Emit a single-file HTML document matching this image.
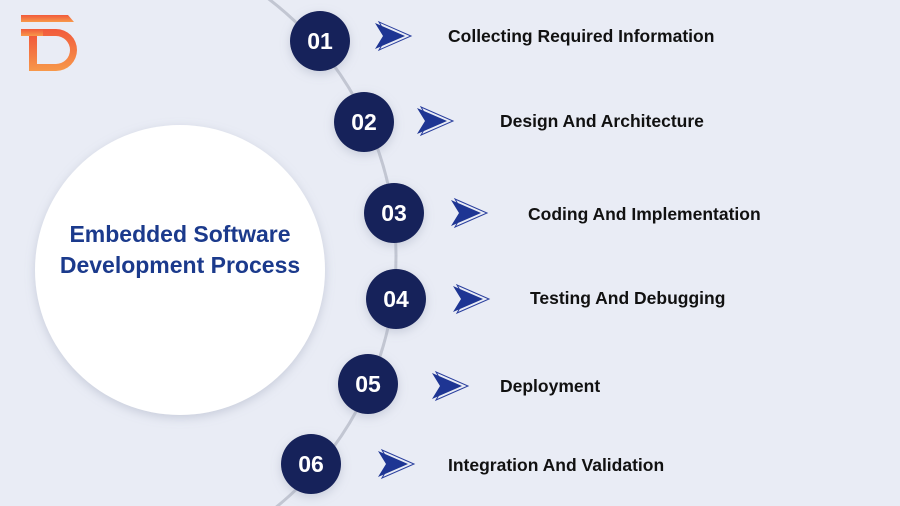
<!DOCTYPE html>
<html><head><style>
html,body{margin:0;width:900px;height:506px;overflow:hidden;background:#e9ecf5;font-family:"Liberation Sans",sans-serif;}
.t{position:absolute;font-weight:bold;font-size:17.5px;color:#111;white-space:nowrap}
</style></head><body>
<svg width="900" height="506" style="position:absolute;left:0;top:0;overflow:hidden">
<defs>
<filter id="sh" x="-30%" y="-30%" width="160%" height="160%"><feDropShadow dx="0" dy="3" stdDeviation="5" flood-color="#8890a8" flood-opacity="0.35"/></filter>
<linearGradient id="lg" x1="0" y1="0" x2="0" y2="1"><stop offset="0" stop-color="#f15a3c"/><stop offset="1" stop-color="#f7984a"/></linearGradient>
<g id="ar"><path d="M4,0 L36,14 L4,28 L12,14 Z" fill="none" stroke="#2a3f9e" stroke-width="1"/><path d="M0,1 L30,14 L0,27 L8,14 Z" fill="#1e3593"/></g>
</defs>
<circle cx="73" cy="256" r="323" fill="none" stroke="#c2c6d2" stroke-width="3"/>
<circle cx="180" cy="270" r="145" fill="#fff" filter="url(#sh)"/>
<g fill="url(#lg)">
<path d="M21,15 H68 L74,22 H21 Z"/>
<path d="M21,29 H48 V36 H21 Z"/>
<path d="M29,36 H37 V71 H29 Z"/>
<path d="M43,29 H56 A21,21 0 0 1 56,71 H37 V64 H56 A14,14 0 0 0 56,36 H43 Z"/>
</g>
<g fill="#13215a" filter="url(#sh)">
<circle cx="320" cy="41" r="30"/><circle cx="364" cy="122" r="30"/><circle cx="394" cy="213" r="30"/>
<circle cx="396" cy="299" r="30"/><circle cx="368" cy="384" r="30"/><circle cx="311" cy="464" r="30"/>
</g>
<g fill="#fff" font-family="Liberation Sans" font-weight="bold" font-size="23" text-anchor="middle">
<text x="320" y="49">01</text><text x="364" y="130">02</text><text x="394" y="221">03</text>
<text x="396" y="307">04</text><text x="368" y="392">05</text><text x="311" y="472">06</text>
</g>
<use href="#ar" x="375" y="22"/><use href="#ar" x="417" y="107"/><use href="#ar" x="451" y="199"/>
<use href="#ar" x="453" y="285"/><use href="#ar" x="432" y="372"/><use href="#ar" x="378" y="450"/>
</svg>
<div class="t" style="left:448px;top:26px">Collecting Required Information</div>
<div class="t" style="left:500px;top:111px">Design And Architecture</div>
<div class="t" style="left:528px;top:204px">Coding And Implementation</div>
<div class="t" style="left:530px;top:288px">Testing And Debugging</div>
<div class="t" style="left:500px;top:376px">Deployment</div>
<div class="t" style="left:448px;top:455px">Integration And Validation</div>
<div style="position:absolute;left:35px;width:290px;top:219px;text-align:center;font-weight:bold;font-size:23px;line-height:31px;color:#1b3a8c">Embedded Software<br>Development Process</div>
</body></html>
